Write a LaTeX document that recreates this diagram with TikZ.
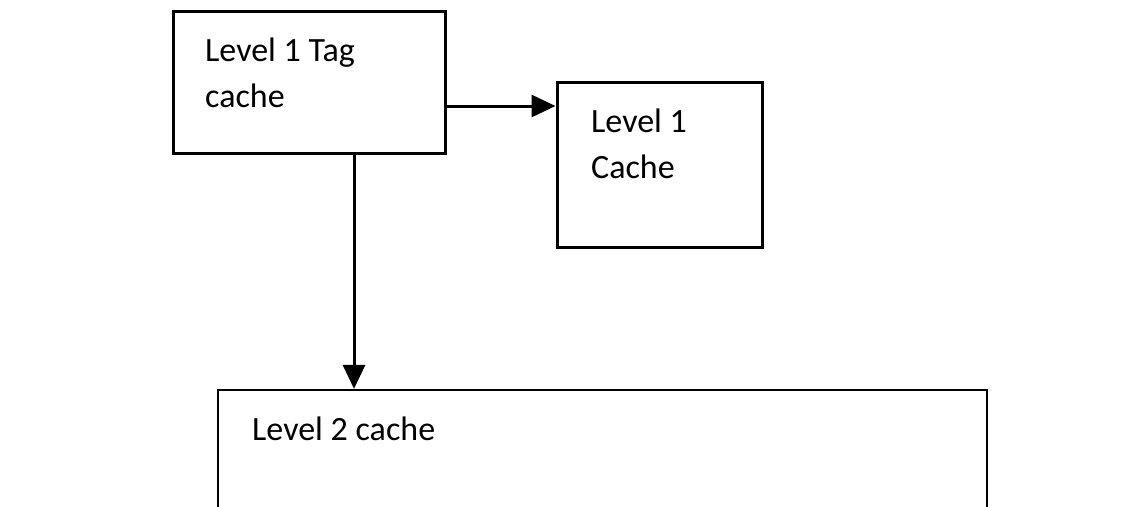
\documentclass[tikz,border=0pt]{standalone}
\usepackage{fontspec}
\setmainfont{Carlito}
\usetikzlibrary{arrows.meta}

\begin{document}
\begin{tikzpicture}[x=1pt, y=-1pt,
  box/.style={rectangle, draw=black, line width=3pt, inner sep=0pt},
  lbl/.style={anchor=base west, inner sep=0pt, font=\fontsize{34}{46}\selectfont},
  arr/.style={line width=3pt, -{Triangle[length=24pt, width=22pt]}}]
\clip (0, 0) rectangle (1143, 506);
\node[box, minimum width=272pt, minimum height=142pt] (tag) at (309, 82) {};
\node[box, minimum width=205pt, minimum height=165pt] (l1) at (659.5, 164.5) {};
\node[box, line width=2.2pt, minimum width=769pt, minimum height=200pt] (l2) at (602.5, 490) {};

\node[lbl] (tagtop) at (205, 61) {Level 1 Tag};
\node[lbl] (tagbot) at (205, 107) {cache};
\node[lbl] (l1top) at (591, 132) {Level 1};
\node[lbl] (l1bot) at (591, 178) {Cache};
\node[lbl] (l2txt) at (252, 440) {Level 2 cache};

\draw[arr] ([yshift=-24pt]tag.east) -- ([yshift=-24pt]tag.east -| l1.west);
\draw[arr] ([xshift=45pt]tag.south) -- ([xshift=45pt]tag.south |- l2.north);

\end{tikzpicture}
\end{document}
